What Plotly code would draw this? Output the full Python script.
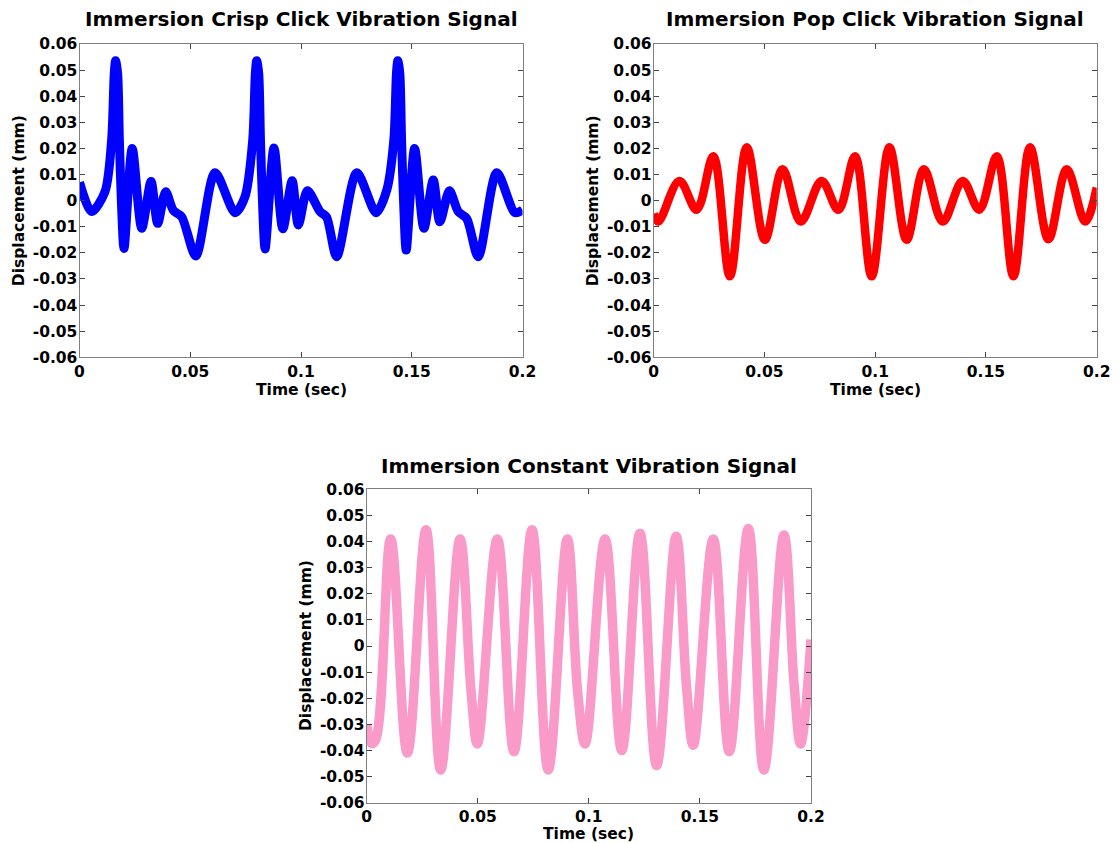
import plotly.graph_objects as go

# ---------------- data ----------------
crisp_t = [0.0000, 0.0055, 0.0115, 0.0145, 0.0157, 0.0163, 0.0172, 0.0180, 0.0190, 0.0201,
           0.0238, 0.0281, 0.0323, 0.0353, 0.0389, 0.0424, 0.0461, 0.0525, 0.0612, 0.0702, 0.0747,
           0.0782, 0.0794, 0.0800, 0.0809, 0.0817, 0.0827, 0.0838, 0.0878, 0.0918, 0.0960, 0.0988,
           0.1029, 0.1086, 0.1115, 0.1161, 0.1252, 0.1339, 0.1387,
           0.1419, 0.1431, 0.1437, 0.1446, 0.1454, 0.1464, 0.1475, 0.1513, 0.1555, 0.1597, 0.1627,
           0.1670, 0.1710, 0.1748, 0.1800, 0.1884, 0.1966, 0.2000]
crisp_v = [0.0070, -0.0042, 0.0034, 0.0232, 0.0488, 0.0536, 0.0488, 0.0232, -0.0023, -0.0183,
           0.0200, -0.0106, 0.0073, -0.0087, 0.0034, -0.0038, -0.0061, -0.0212, 0.0107, -0.0046, 0.0015,
           0.0232, 0.0488, 0.0536, 0.0488, 0.0232, -0.0023, -0.0185, 0.0202, -0.0108, 0.0076, -0.0093,
           0.0038, -0.0042, -0.0062, -0.0215, 0.0107, -0.0046, 0.0040,
           0.0232, 0.0488, 0.0536, 0.0488, 0.0232, -0.0023, -0.0189, 0.0200, -0.0106, 0.0079, -0.0081,
           0.0038, -0.0042, -0.0068, -0.0215, 0.0107, -0.0046, -0.0036]

pop_t = [0.0000, 0.0021, 0.0116, 0.0194, 0.0269, 0.0344, 0.0420, 0.0502, 0.0582, 0.0664,
         0.0758, 0.0834, 0.0909, 0.0984, 0.1064, 0.1142, 0.1220, 0.1305, 0.1395, 0.1470,
         0.1549, 0.1624, 0.1699, 0.1782, 0.1865, 0.1948, 0.2000]
pop_v = [-0.0050, -0.0080, 0.0075, -0.0035, 0.0170, -0.0290, 0.0205, -0.0150, 0.0120, -0.0080,
         0.0075, -0.0035, 0.0170, -0.0290, 0.0205, -0.0150, 0.0120, -0.0080, 0.0075, -0.0035,
         0.0170, -0.0290, 0.0205, -0.0148, 0.0120, -0.0080, 0.0050]

const_t = [0.0000, 0.0022, 0.0040, 0.0108, 0.0183, 0.0267, 0.0333, 0.0420, 0.0470, 0.0498,
           0.0588, 0.0663, 0.0744, 0.0817, 0.0903, 0.0950, 0.0983,
           0.1073, 0.1148, 0.1230, 0.1305, 0.1393, 0.1440, 0.1470,
           0.1560, 0.1632, 0.1718, 0.1788, 0.1878, 0.1925, 0.1953, 0.2000]
const_v = [-0.0300, -0.0373, -0.0360, 0.0410, -0.0410, 0.0445, -0.0475, 0.0410, -0.0175, -0.0375,
           0.0410, -0.0405, 0.0445, -0.0475, 0.0410, -0.0180, -0.0375,
           0.0410, -0.0400, 0.0432, -0.0458, 0.0420, -0.0160, -0.0380,
           0.0410, -0.0405, 0.0450, -0.0475, 0.0425, -0.0160, -0.0375, 0.0025]

titles = ["Immersion Crisp Click Vibration Signal",
          "Immersion Pop Click Vibration Signal",
          "Immersion Constant Vibration Signal"]
x_title = "Time (sec)"
y_title = "Displacement (mm)"

x_tick_vals = [0, 0.05, 0.1, 0.15, 0.2]
x_tick_text = ["0", "0.05", "0.1", "0.15", "0.2"]
y_tick_vals = [0.06, 0.05, 0.04, 0.03, 0.02, 0.01, 0, -0.01, -0.02, -0.03, -0.04, -0.05, -0.06]
y_tick_text = ["0.06", "0.05", "0.04", "0.03", "0.02", "0.01", "0",
               "-0.01", "-0.02", "-0.03", "-0.04", "-0.05", "-0.06"]

# ---------------- figure ----------------
W, H = 1119, 843
FONT = "DejaVu Sans"

# plot boxes in pixels (left, right, top, bottom)
boxes = [(79.5, 522.5, 44.0, 357.3),
         (653.7, 1096.7, 44.0, 357.3),
         (366.7, 811.0, 489.3, 802.7)]

fig = go.Figure()
series = [(crisp_t, crisp_v, "#0000FF", 9, 0.8),
          (pop_t, pop_v, "#FF0000", 8.5, 1.0),
          (const_t, const_v, "#FA9AC8", 9.5, 1.1)]
for i, (t, v, c, w, sm) in enumerate(series):
    sfx = "" if i == 0 else str(i + 1)
    fig.add_trace(go.Scatter(x=t, y=v, mode="lines",
                             line=dict(color=c, width=w, shape="spline", smoothing=sm),
                             xaxis="x" + sfx, yaxis="y" + sfx, showlegend=False,
                             cliponaxis=True))

tickfont = dict(family=FONT, size=15.5, color="black", weight="bold")
layout = dict(width=W, height=H, margin=dict(l=0, r=0, t=0, b=0),
              paper_bgcolor="white", plot_bgcolor="white", showlegend=False)
annotations = []
for i, (l, r, t, b) in enumerate(boxes):
    sfx = "" if i == 0 else str(i + 1)
    xd = [l / W, r / W]
    yd = [1 - b / H, 1 - t / H]
    layout["xaxis" + sfx] = dict(domain=xd, range=[0, 0.2], tickvals=x_tick_vals, ticktext=x_tick_text,
                                 ticks="inside", ticklen=5, tickcolor="#444", tickwidth=1,
                                 showline=True, linecolor="#7f7f7f", linewidth=1, mirror="ticks",
                                 showgrid=False, zeroline=False, tickfont=tickfont,
                                 ticklabelstandoff=0, automargin=False,
                                 anchor="y" + sfx)
    layout["yaxis" + sfx] = dict(domain=yd, range=[-0.06, 0.06], tickvals=y_tick_vals, ticktext=y_tick_text,
                                 ticks="inside", ticklen=5, tickcolor="#444", tickwidth=1,
                                 showline=True, linecolor="#7f7f7f", linewidth=1, mirror="ticks",
                                 showgrid=False, zeroline=False, tickfont=tickfont,
                                 ticklabelstandoff=-2, automargin=False,
                                 anchor="x" + sfx)
    cx = (l + r) / 2 / W
    # plot title
    ty = 19.5 if i < 2 else 465.5
    annotations.append(dict(text=titles[i], x=cx, y=1 - ty / H, xref="paper", yref="paper",
                            xanchor="center", yanchor="middle", showarrow=False,
                            font=dict(family=FONT, size=20, color="black", weight="bold")))
    # x axis title
    xy = 389.5 if i < 2 else 834
    annotations.append(dict(text=x_title, x=cx, y=1 - xy / H, xref="paper", yref="paper",
                            xanchor="center", yanchor="middle", showarrow=False,
                            font=dict(family=FONT, size=15.5, color="black", weight="bold")))
    # y axis title
    yx = [18.5, 592.7, 306.0][i]
    annotations.append(dict(text=y_title, x=yx / W, y=1 - (t + b) / 2 / H, xref="paper", yref="paper",
                            xanchor="center", yanchor="middle", showarrow=False, textangle=-90,
                            font=dict(family=FONT, size=15.5, color="black", weight="bold")))
layout["annotations"] = annotations
fig.update_layout(**layout)
fig.write_html("out.html")
